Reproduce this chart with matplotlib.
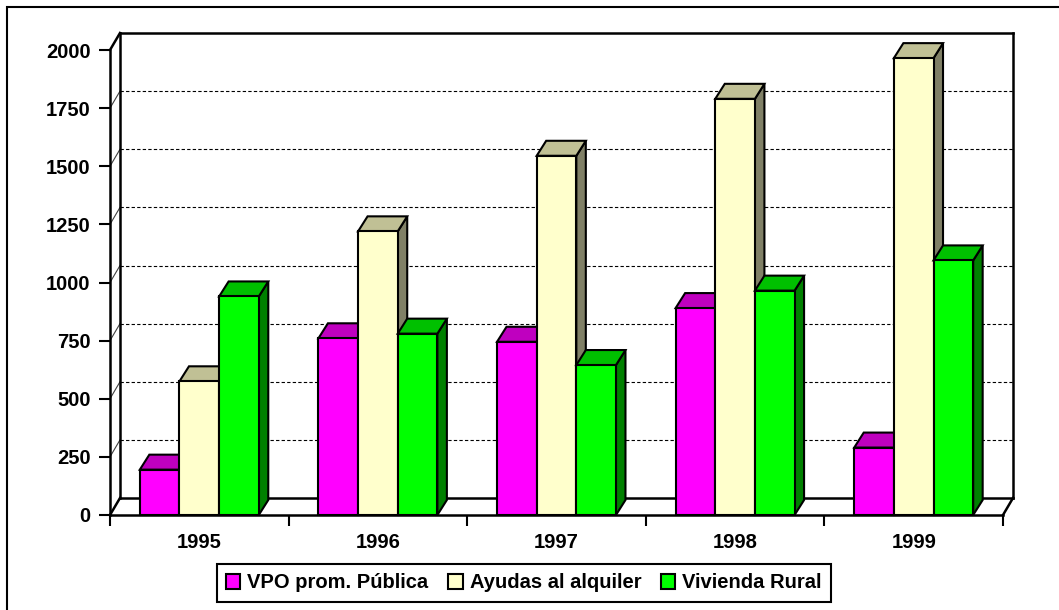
import matplotlib
matplotlib.use('Agg')
import matplotlib.pyplot as plt
from matplotlib.patches import Polygon, Rectangle
import numpy as np

# ---- data ----
years = ['1995', '1996', '1997', '1998', '1999']
series_names = ['VPO prom. Pública', 'Ayudas al alquiler', 'Vivienda Rural']
vpo = [195, 760, 745, 890, 290]
ayudas = [575, 1220, 1545, 1790, 1965]
rural = [940, 780, 645, 965, 1095]
yticks = [0, 250, 500, 750, 1000, 1250, 1500, 1750, 2000]

front_colors = ['#FF00FF', '#FFFFCC', '#00FF00']
top_colors = ['#BF00BF', '#C0C095', '#00C000']
side_colors = ['#800080', '#808066', '#008000']

plt.rcParams['font.family'] = ['Liberation Sans', 'DejaVu Sans']
plt.rcParams['font.weight'] = 'bold'
FS = 14.5

W, H = 1059, 610
fig = plt.figure(figsize=(W / 100, H / 100), dpi=100)
ax_left, ax_right, ax_top, ax_bottom = 110, 1003, 50, 515
ax = fig.add_axes([ax_left / W, 1 - ax_bottom / H,
                   (ax_right - ax_left) / W, (ax_bottom - ax_top) / H])
ax.set_xlim(-0.5, len(years) - 0.5)
ax.set_ylim(0, 2000)
ax.patch.set_visible(False)
for s in ax.spines.values():
    s.set_visible(False)

# convert pixel depths to data units via the axes transform
inv = ax.transData.inverted()
origin = ax.transData.transform((0, 0))
wdx, wdy = inv.transform(origin + np.array([10, 17]))   # wall depth
bdx, bdy = inv.transform(origin + np.array([9.5, 15]))  # bar depth

x0a, x1a = -0.5, len(years) - 0.5
line_kw = dict(color='black', lw=1.8, clip_on=False, solid_capstyle='projecting')

# back wall gridlines
for v in yticks[1:-1]:
    ax.plot([x0a + wdx, x1a + wdx], [v + wdy, v + wdy], color='black', lw=0.8,
            ls=(0, (3, 2)), clip_on=False, zorder=1)
# left wall diagonals
for v in yticks[1:-1]:
    ax.plot([x0a, x0a + wdx], [v, v + wdy], color='#404040', lw=0.8,
            clip_on=False, zorder=1)
# frame
ax.plot([x0a, x0a], [0, 2000], zorder=2, **line_kw)                      # front axis
ax.plot([x0a + wdx, x0a + wdx], [wdy, 2000 + wdy], zorder=2, **line_kw)  # back-left
ax.plot([x1a + wdx, x1a + wdx], [wdy, 2000 + wdy], zorder=2, **line_kw)  # back-right
ax.plot([x0a + wdx, x1a + wdx], [2000 + wdy, 2000 + wdy], zorder=2, **line_kw)  # top
ax.plot([x0a + wdx, x1a + wdx], [wdy, wdy], zorder=2, **line_kw)          # floor back
ax.plot([x0a, x1a], [0, 0], zorder=2, **line_kw)                          # floor front
ax.plot([x0a, x0a + wdx], [2000, 2000 + wdy], zorder=2, **line_kw)
ax.plot([x0a, x0a + wdx], [0, wdy], zorder=2, **line_kw)
ax.plot([x1a, x1a + wdx], [0, wdy], zorder=2, **line_kw)

# bars
data = [vpo, ayudas, rural]
w = 0.222
offsets = [-w, 0, w]
x = np.arange(len(years))
handles = []
for j, vals in enumerate(data):
    zb = 10 + 3 * j
    for i, v in enumerate(vals):
        xl = x[i] + offsets[j] - w / 2
        xr = xl + w
        side = Polygon([(xr, 0), (xr + bdx, bdy), (xr + bdx, v + bdy), (xr, v)],
                       closed=True, facecolor=side_colors[j], edgecolor='black',
                       lw=1.5, joinstyle='miter', clip_on=False, zorder=zb)
        top = Polygon([(xl, v), (xl + bdx, v + bdy), (xr + bdx, v + bdy), (xr, v)],
                      closed=True, facecolor=top_colors[j], edgecolor='black',
                      lw=1.5, joinstyle='miter', clip_on=False, zorder=zb + 1)
        ax.add_patch(side)
        ax.add_patch(top)
    bc = ax.bar(x + offsets[j], vals, width=w, color=front_colors[j],
                edgecolor='black', linewidth=1.5, zorder=zb + 2, clip_on=False,
                label=series_names[j])
    handles.append(bc)

# ticks
ax.set_yticks(yticks)
ax.set_yticklabels([str(t) for t in yticks], fontsize=FS, fontweight='bold')
ax.tick_params(axis='y', length=8, width=1.5, pad=6, direction='out')
ax.set_xticks(np.arange(-0.5, len(years), 1.0))
ax.set_xticklabels([])
ax.set_xticks(x, minor=True)
ax.set_xticklabels(years, minor=True, fontsize=FS, fontweight='bold')
ax.tick_params(axis='x', which='major', length=8, width=1.5, direction='out')
ax.tick_params(axis='x', which='minor', length=0, pad=13)

# legend
leg = fig.legend(handles, series_names, loc='center',
                 bbox_to_anchor=(524 / W, 1 - 583 / H), ncol=3, frameon=True,
                 fancybox=False, edgecolor='black', framealpha=1,
                 prop={'size': FS, 'weight': 'bold'}, handlelength=0.7,
                 handleheight=0.7, handletextpad=0.35, columnspacing=1.0,
                 borderpad=0.45, borderaxespad=0)
leg.get_frame().set_linewidth(1.5)

# outer border (cropped on right / bottom)
fig.add_artist(Rectangle((7 / W, -0.1), 1.2, 1 - 7 / H + 0.1,
                         transform=fig.transFigure, fill=False,
                         edgecolor='black', lw=1.5))

fig.savefig('out.png', dpi=100)
